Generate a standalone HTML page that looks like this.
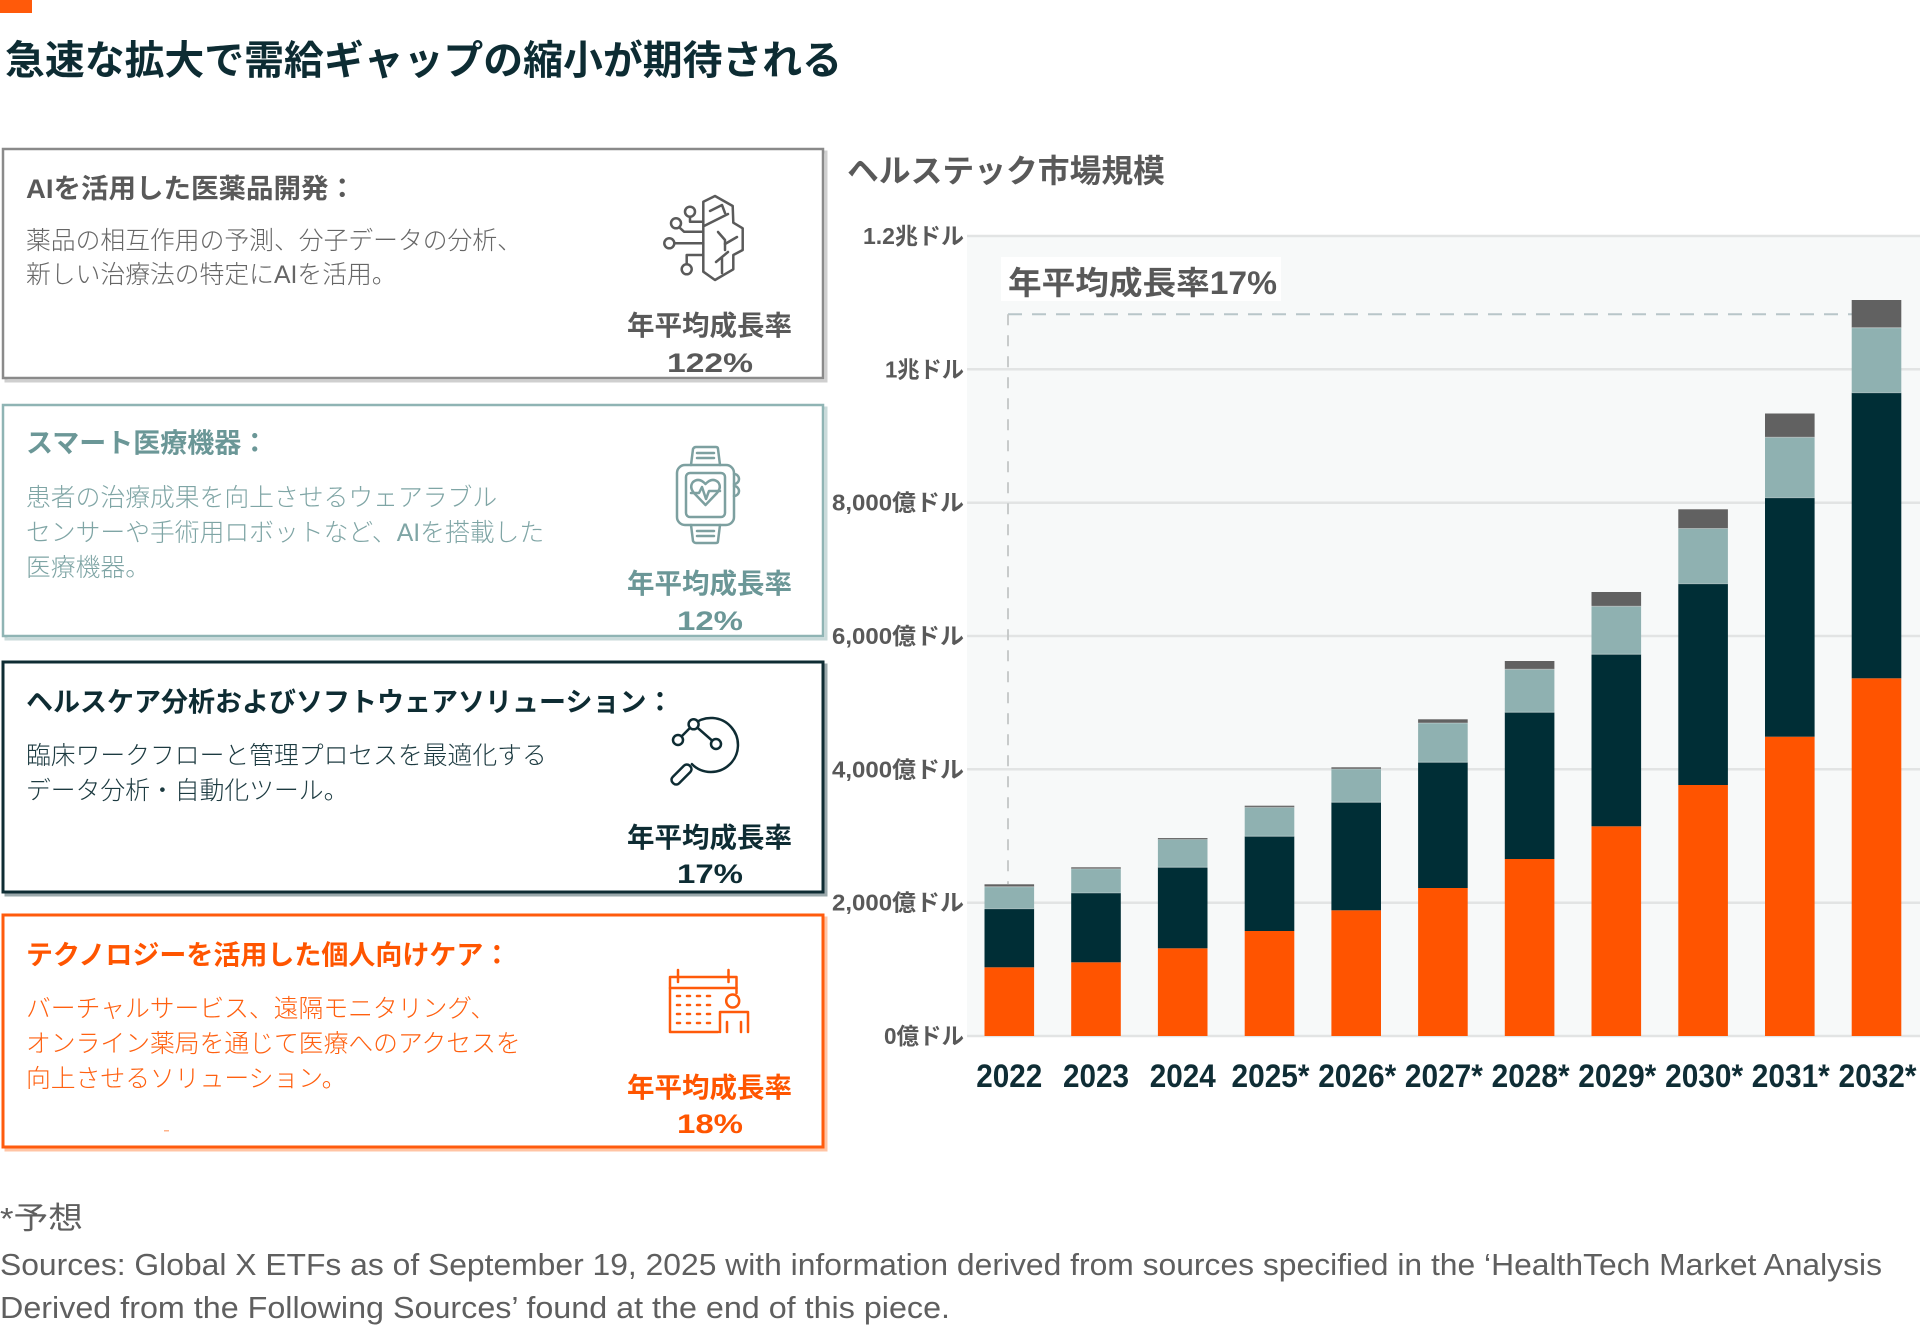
<!DOCTYPE html>
<html><head><meta charset="utf-8"><style>
html,body{margin:0;padding:0;background:#fff;}
svg{display:block;}
text{font-family:"Liberation Sans","Noto Sans CJK JP",sans-serif;}
</style></head><body>
<svg width="1920" height="1326" viewBox="0 0 1920 1326" xmlns="http://www.w3.org/2000/svg">
<rect x="0" y="0" width="1920" height="1326" fill="#fff"/>
<!-- top orange tab -->
<rect x="0" y="0" width="32" height="13" fill="#ff5a0a"/>
<!-- main title -->
<text x="5" y="74" font-size="40" font-weight="700" fill="#0d2c33" textLength="837" lengthAdjust="spacingAndGlyphs">急速な拡大で需給ギャップの縮小が期待される</text>

<!-- Box 1 -->
<rect x="6" y="152" width="820" height="229" fill="none" stroke="#cfcfcf" stroke-width="3"/>
<rect x="3" y="149" width="820" height="229" fill="#fff" stroke="#8a8a8a" stroke-width="2.5"/>
<text x="26" y="198" font-size="27" font-weight="700" fill="#595959" textLength="330" lengthAdjust="spacingAndGlyphs">AIを活用した医薬品開発：</text>
<text x="26" y="249" font-size="24.8" font-weight="300" fill="#666">薬品の相互作用の予測、分子データの分析、</text>
<text x="26" y="283" font-size="24.8" font-weight="300" fill="#666">新しい治療法の特定にAIを活用。</text>
<text x="709.5" y="335" font-size="27.5" font-weight="700" fill="#595959" text-anchor="middle" textLength="165" lengthAdjust="spacingAndGlyphs">年平均成長率</text>
<text x="710" y="372" font-size="27" font-weight="700" fill="#595959" text-anchor="middle" textLength="86" lengthAdjust="spacingAndGlyphs">122%</text>
<!-- brain icon -->
<g fill="none" stroke="#5a5a5a" stroke-width="2.5" stroke-linejoin="round" stroke-linecap="round">
<path d="M703.3 201.7 L715 196 L732.7 206 L733.3 222.7 L742.7 228.3 L742.7 250 L733.3 255 L733.3 269.3 L715 280 L703.3 271.7 Z"/>
<path d="M710 211 L722 205 L725 213"/>
<path d="M704 226 L728 214"/>
<path d="M718 232 L725 240 L725 250"/>
<path d="M725 244 L737 237"/>
<path d="M716 262 L728 252 M722 258 L722 273"/>
<path d="M690 216.7 L690 221.7 L703.3 221.7"/>
<path d="M680 228 L684 231.7 L703.3 231.7"/>
<path d="M674.5 243.3 L703.3 243.3"/>
<path d="M686.7 264 L686.7 255 L703.3 255"/>
<circle cx="690" cy="211.7" r="5"/>
<circle cx="676" cy="223.3" r="5"/>
<circle cx="669.3" cy="243.3" r="5"/>
<circle cx="686.7" cy="269.3" r="5"/>
</g>

<!-- Box 2 -->
<rect x="6" y="408" width="820" height="231" fill="none" stroke="#c9dada" stroke-width="3"/>
<rect x="3" y="405" width="820" height="231" fill="#fff" stroke="#8fb4b4" stroke-width="2.5"/>
<text x="26" y="452.5" font-size="27" font-weight="700" fill="#6b9797">スマート医療機器：</text>
<text x="26" y="506" font-size="24.8" font-weight="300" fill="#7fa5a5">患者の治療成果を向上させるウェアラブル</text>
<text x="26" y="541" font-size="24.8" font-weight="300" fill="#7fa5a5">センサーや手術用ロボットなど、AIを搭載した</text>
<text x="26" y="576" font-size="24.8" font-weight="300" fill="#7fa5a5">医療機器。</text>
<text x="709.5" y="593" font-size="27.5" font-weight="700" fill="#6b9797" text-anchor="middle" textLength="165" lengthAdjust="spacingAndGlyphs">年平均成長率</text>
<text x="710" y="630" font-size="27" font-weight="700" fill="#6b9797" text-anchor="middle" textLength="66" lengthAdjust="spacingAndGlyphs">12%</text>
<!-- watch icon -->
<g fill="none" stroke="#7da0a0" stroke-width="2.5" stroke-linejoin="round" stroke-linecap="round">
<path d="M691 465 L693 449 Q694 447 696 447 L716 447 Q718 447 718 449 L720 465"/>
<path d="M697 453 L714 453 M697 458 L714 458"/>
<path d="M691 525 L693 541 Q694 543 696 543 L716 543 Q718 543 718 541 L720 525"/>
<path d="M697 531 L714 531 M697 536 L714 536"/>
<path d="M734 474 A5 5 0 1 1 734 484 M734 486 A5 5 0 1 1 734 496"/>
<rect x="677" y="465" width="57" height="60" rx="8"/>
<rect x="686" y="473" width="39" height="44" rx="4"/>
<path d="M705.5 505 L694 493 Q689 487 693 482 Q699 477 705.5 484 Q712 477 718 482 Q722 487 717 493 Z"/>
<path d="M691 493 L699 493 L702 487 L706 499 L709 491 L720 491"/>
</g>

<!-- Box 3 -->
<rect x="6" y="665" width="820" height="230" fill="none" stroke="#9aa8ab" stroke-width="3"/>
<rect x="3" y="662" width="820" height="230" fill="#fff" stroke="#0e2c33" stroke-width="3"/>
<text x="26" y="711.5" font-size="27" font-weight="700" fill="#0e2c33">ヘルスケア分析およびソフトウェアソリューション：</text>
<text x="26" y="764" font-size="24.8" font-weight="300" fill="#1c3a40">臨床ワークフローと管理プロセスを最適化する</text>
<text x="26" y="799" font-size="24.8" font-weight="300" fill="#1c3a40">データ分析・自動化ツール。</text>
<text x="709.5" y="847" font-size="27.5" font-weight="700" fill="#0e2c33" text-anchor="middle" textLength="165" lengthAdjust="spacingAndGlyphs">年平均成長率</text>
<text x="710" y="883" font-size="27" font-weight="700" fill="#0e2c33" text-anchor="middle" textLength="66" lengthAdjust="spacingAndGlyphs">17%</text>
<!-- magnifier icon -->
<g fill="none" stroke="#0e2c33" stroke-width="2.5" stroke-linejoin="round" stroke-linecap="round">
<path d="M693.6 724.3 A27 27 0 1 1 691.9 764.1"/>
<path d="M678 740 L693.6 724.3 L716 744"/>
<circle cx="693.6" cy="724.3" r="5" fill="#fff"/>
<circle cx="678" cy="740" r="5" fill="#fff"/>
<circle cx="716" cy="744" r="5" fill="#fff"/>
<rect x="-4.5" y="0" width="9" height="24" rx="4" transform="translate(690 766) rotate(45)"/>
</g>

<!-- Box 4 -->
<rect x="6" y="918" width="820" height="232" fill="none" stroke="#ffc4a4" stroke-width="3"/>
<rect x="3" y="915" width="820" height="232" fill="#fff" stroke="#ff5b0d" stroke-width="3"/>
<text x="26" y="964.5" font-size="27" font-weight="700" fill="#ff5500">テクノロジーを活用した個人向けケア：</text>
<text x="26" y="1017" font-size="24.8" font-weight="300" fill="#ff6010">バーチャルサービス、遠隔モニタリング、</text>
<text x="26" y="1052" font-size="24.8" font-weight="300" fill="#ff6010">オンライン薬局を通じて医療へのアクセスを</text>
<text x="26" y="1087" font-size="24.8" font-weight="300" fill="#ff6010">向上させるソリューション。</text>
<text x="709.5" y="1097" font-size="27.5" font-weight="700" fill="#ff5500" text-anchor="middle" textLength="165" lengthAdjust="spacingAndGlyphs">年平均成長率</text>
<text x="710" y="1133" font-size="27" font-weight="700" fill="#ff5500" text-anchor="middle" textLength="66" lengthAdjust="spacingAndGlyphs">18%</text>
<rect x="164" y="1130" width="5" height="1.5" fill="#ffb38a"/>
<!-- calendar icon -->
<g fill="none" stroke="#ff5a0a" stroke-width="2.5" stroke-linejoin="round" stroke-linecap="round">
<path d="M736.5 993 L736.5 977 L670 977 L670 1032 L718 1032"/>
<path d="M670 988 L736.5 988"/>
<path d="M678 970 L678 982 M728.5 970 L728.5 982"/>
<path d="M677 996 L680 996 M687 996 L690 996 M697 996 L700 996 M707 996 L710 996"/>
<path d="M677 1005 L680 1005 M687 1005 L690 1005 M697 1005 L700 1005 M707 1005 L710 1005"/>
<path d="M677 1014 L680 1014 M687 1014 L690 1014 M697 1014 L700 1014 M707 1014 L710 1014"/>
<path d="M677 1023 L680 1023 M687 1023 L690 1023 M697 1023 L700 1023 M707 1023 L710 1023"/>
<circle cx="732.7" cy="1001" r="6.5"/>
<path d="M720 1032 L720 1012 L748 1012 L748 1032"/>
<path d="M727 1032 L727 1022 M741 1032 L741 1022"/>
</g>

<!-- Chart title -->
<text x="847" y="182" font-size="32" font-weight="700" fill="#595959" textLength="318" lengthAdjust="spacingAndGlyphs">ヘルステック市場規模</text>

<!-- plot background -->
<rect x="967" y="236" width="953" height="800" fill="#f7f9f9"/>
<!-- gridlines -->
<g stroke="#e2e4e4" stroke-width="2.5">
<line x1="967" y1="236" x2="1920" y2="236"/>
<line x1="967" y1="369.3" x2="1920" y2="369.3"/>
<line x1="967" y1="502.7" x2="1920" y2="502.7"/>
<line x1="967" y1="636" x2="1920" y2="636"/>
<line x1="967" y1="769.3" x2="1920" y2="769.3"/>
<line x1="967" y1="902.7" x2="1920" y2="902.7"/>
<line x1="967" y1="1036" x2="1920" y2="1036"/>
</g>
<!-- y labels -->
<g font-size="23" font-weight="700" fill="#595959" text-anchor="end">
<text x="964" y="244" textLength="101" lengthAdjust="spacingAndGlyphs">1.2兆ドル</text>
<text x="964" y="377.3" textLength="79" lengthAdjust="spacingAndGlyphs">1兆ドル</text>
<text x="964" y="510.7" textLength="132" lengthAdjust="spacingAndGlyphs">8,000億ドル</text>
<text x="964" y="644" textLength="132" lengthAdjust="spacingAndGlyphs">6,000億ドル</text>
<text x="964" y="777.3" textLength="132" lengthAdjust="spacingAndGlyphs">4,000億ドル</text>
<text x="964" y="910.7" textLength="132" lengthAdjust="spacingAndGlyphs">2,000億ドル</text>
<text x="964" y="1044" textLength="80" lengthAdjust="spacingAndGlyphs">0億ドル</text>
</g>

<!-- dashed lines -->
<line x1="1008" y1="314.3" x2="1852" y2="314.3" stroke="#b8c6c9" stroke-width="2" stroke-dasharray="14 10"/>
<line x1="1008" y1="314.3" x2="1008" y2="884" stroke="#c2c6c6" stroke-width="1.8" stroke-dasharray="11 10"/>

<!-- label box -->
<rect x="1001" y="257" width="280" height="44" fill="#fff"/>
<text x="1008" y="294" font-size="32" font-weight="700" fill="#595959" textLength="269" lengthAdjust="spacingAndGlyphs">年平均成長率17%</text>

<!-- bars -->
<g>
<!-- 2022 -->
<rect x="984.5" y="967.3" width="49.6" height="68.7" fill="#ff5400"/>
<rect x="984.5" y="908.7" width="49.6" height="58.6" fill="#002e36"/>
<rect x="984.5" y="886.7" width="49.6" height="22" fill="#8fb1b1"/>
<rect x="984.5" y="884.3" width="49.6" height="2.4" fill="#616161"/>
<!-- 2023 -->
<rect x="1071.2" y="962.3" width="49.6" height="73.7" fill="#ff5400"/>
<rect x="1071.2" y="893" width="49.6" height="69.3" fill="#002e36"/>
<rect x="1071.2" y="868.7" width="49.6" height="24.3" fill="#8fb1b1"/>
<rect x="1071.2" y="867.3" width="49.6" height="1.6" fill="#616161"/>
<!-- 2024 -->
<rect x="1157.9" y="948.3" width="49.6" height="87.7" fill="#ff5400"/>
<rect x="1157.9" y="867.3" width="49.6" height="81" fill="#002e36"/>
<rect x="1157.9" y="839.3" width="49.6" height="28" fill="#8fb1b1"/>
<rect x="1157.9" y="838" width="49.6" height="1.5" fill="#616161"/>
<!-- 2025 -->
<rect x="1244.7" y="931" width="49.6" height="105" fill="#ff5400"/>
<rect x="1244.7" y="836.3" width="49.6" height="94.7" fill="#002e36"/>
<rect x="1244.7" y="807.3" width="49.6" height="29" fill="#8fb1b1"/>
<rect x="1244.7" y="805.7" width="49.6" height="1.7" fill="#616161"/>
<!-- 2026 -->
<rect x="1331.4" y="910.3" width="49.6" height="125.7" fill="#ff5400"/>
<rect x="1331.4" y="802.3" width="49.6" height="108" fill="#002e36"/>
<rect x="1331.4" y="769" width="49.6" height="33.3" fill="#8fb1b1"/>
<rect x="1331.4" y="767.3" width="49.6" height="1.8" fill="#616161"/>
<!-- 2027 -->
<rect x="1418.1" y="888" width="49.6" height="148" fill="#ff5400"/>
<rect x="1418.1" y="762.3" width="49.6" height="125.7" fill="#002e36"/>
<rect x="1418.1" y="723" width="49.6" height="39.3" fill="#8fb1b1"/>
<rect x="1418.1" y="719.3" width="49.6" height="3.7" fill="#616161"/>
<!-- 2028 -->
<rect x="1504.8" y="859" width="49.6" height="177" fill="#ff5400"/>
<rect x="1504.8" y="712.3" width="49.6" height="146.7" fill="#002e36"/>
<rect x="1504.8" y="669.3" width="49.6" height="43" fill="#8fb1b1"/>
<rect x="1504.8" y="661" width="49.6" height="8.3" fill="#616161"/>
<!-- 2029 -->
<rect x="1591.5" y="826.3" width="49.6" height="209.7" fill="#ff5400"/>
<rect x="1591.5" y="654.3" width="49.6" height="172" fill="#002e36"/>
<rect x="1591.5" y="606.3" width="49.6" height="48" fill="#8fb1b1"/>
<rect x="1591.5" y="592" width="49.6" height="14.3" fill="#616161"/>
<!-- 2030 -->
<rect x="1678.3" y="785" width="49.6" height="251" fill="#ff5400"/>
<rect x="1678.3" y="583.7" width="49.6" height="201.3" fill="#002e36"/>
<rect x="1678.3" y="528.5" width="49.6" height="55.2" fill="#8fb1b1"/>
<rect x="1678.3" y="509.3" width="49.6" height="19.2" fill="#616161"/>
<!-- 2031 -->
<rect x="1765" y="736.7" width="49.6" height="299.3" fill="#ff5400"/>
<rect x="1765" y="497.7" width="49.6" height="239" fill="#002e36"/>
<rect x="1765" y="437.3" width="49.6" height="60.4" fill="#8fb1b1"/>
<rect x="1765" y="413.5" width="49.6" height="23.8" fill="#616161"/>
<!-- 2032 -->
<rect x="1851.7" y="678.3" width="49.6" height="357.7" fill="#ff5400"/>
<rect x="1851.7" y="392.7" width="49.6" height="285.6" fill="#002e36"/>
<rect x="1851.7" y="327.7" width="49.6" height="65" fill="#8fb1b1"/>
<rect x="1851.7" y="300" width="49.6" height="27.7" fill="#616161"/>
</g>
<!-- segment separators -->
<g stroke="#ffffff" stroke-opacity="0.35" stroke-width="1">
<line x1="984.5" y1="908.7" x2="1034.1" y2="908.7"/><line x1="984.5" y1="886.7" x2="1034.1" y2="886.7"/>
<line x1="1071.2" y1="893" x2="1120.8" y2="893"/><line x1="1071.2" y1="868.7" x2="1120.8" y2="868.7"/>
<line x1="1157.9" y1="867.3" x2="1207.5" y2="867.3"/><line x1="1157.9" y1="839.3" x2="1207.5" y2="839.3"/>
<line x1="1244.7" y1="836.3" x2="1294.3" y2="836.3"/><line x1="1244.7" y1="807.3" x2="1294.3" y2="807.3"/>
<line x1="1331.4" y1="802.3" x2="1381" y2="802.3"/><line x1="1331.4" y1="769" x2="1381" y2="769"/>
<line x1="1418.1" y1="762.3" x2="1467.7" y2="762.3"/><line x1="1418.1" y1="723" x2="1467.7" y2="723"/>
<line x1="1504.8" y1="712.3" x2="1554.4" y2="712.3"/><line x1="1504.8" y1="669.3" x2="1554.4" y2="669.3"/>
<line x1="1591.5" y1="654.3" x2="1641.1" y2="654.3"/><line x1="1591.5" y1="606.3" x2="1641.1" y2="606.3"/>
<line x1="1678.3" y1="583.7" x2="1727.9" y2="583.7"/><line x1="1678.3" y1="528.5" x2="1727.9" y2="528.5"/>
<line x1="1765" y1="497.7" x2="1814.6" y2="497.7"/><line x1="1765" y1="437.3" x2="1814.6" y2="437.3"/>
<line x1="1851.7" y1="392.7" x2="1901.3" y2="392.7"/><line x1="1851.7" y1="327.7" x2="1901.3" y2="327.7"/>
</g>

<!-- x labels -->
<g font-size="32" font-weight="700" fill="#0f2d35" text-anchor="middle">
<text x="1009.3" y="1087" textLength="66" lengthAdjust="spacingAndGlyphs">2022</text>
<text x="1096" y="1087" textLength="66" lengthAdjust="spacingAndGlyphs">2023</text>
<text x="1182.7" y="1087" textLength="66" lengthAdjust="spacingAndGlyphs">2024</text>
<text x="1270.5" y="1087" textLength="78" lengthAdjust="spacingAndGlyphs">2025*</text>
<text x="1357.2" y="1087" textLength="78" lengthAdjust="spacingAndGlyphs">2026*</text>
<text x="1443.9" y="1087" textLength="78" lengthAdjust="spacingAndGlyphs">2027*</text>
<text x="1530.6" y="1087" textLength="78" lengthAdjust="spacingAndGlyphs">2028*</text>
<text x="1617.3" y="1087" textLength="78" lengthAdjust="spacingAndGlyphs">2029*</text>
<text x="1704.1" y="1087" textLength="78" lengthAdjust="spacingAndGlyphs">2030*</text>
<text x="1790.8" y="1087" textLength="78" lengthAdjust="spacingAndGlyphs">2031*</text>
<text x="1877.5" y="1087" textLength="78" lengthAdjust="spacingAndGlyphs">2032*</text>
</g>

<!-- footnotes -->
<g fill="#5f5f5f" font-size="31">
<text x="0" y="1229" textLength="83" lengthAdjust="spacingAndGlyphs">*予想</text>
<text x="0" y="1275" textLength="1882" lengthAdjust="spacingAndGlyphs">Sources: Global X ETFs as of September 19, 2025 with information derived from sources specified in the ‘HealthTech Market Analysis</text>
<text x="0" y="1318" textLength="950" lengthAdjust="spacingAndGlyphs">Derived from the Following Sources’ found at the end of this piece.</text>
</g>
</svg>
</body></html>
